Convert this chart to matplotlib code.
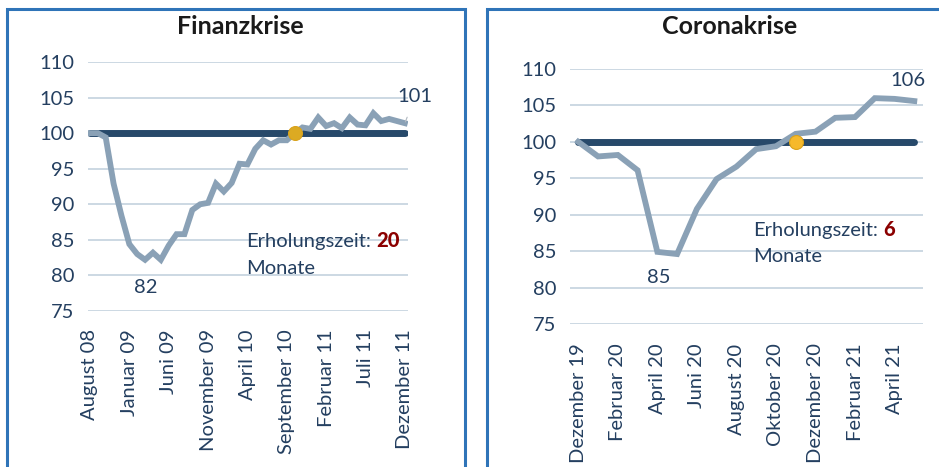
import matplotlib
matplotlib.use("Agg")
import matplotlib.pyplot as plt
from matplotlib.patches import Rectangle

plt.rcParams["font.family"] = ["Lato", "DejaVu Sans"]

# Finanzkrise: monthly index, August 2008 = 100 (41 months)
fin_values = [100.0, 100.0, 99.4, 92.9, 88.4, 84.4, 83.0, 82.2, 83.2, 82.2,
              84.2, 85.8, 85.8, 89.2, 90.0, 90.2, 92.9, 91.8, 93.0, 95.7,
              95.6, 97.8, 99.0, 98.4, 99.0, 99.0, 100.0, 100.8, 100.6, 102.2,
              101.0, 101.4, 100.7, 102.2, 101.2, 101.1, 102.8, 101.7, 102.0, 101.7,
              101.4]
fin_labels = ["August 08", "Januar 09", "Juni 09", "November 09", "April 10",
              "September 10", "Februar 11", "Juli 11", "Dezember 11"]
fin_tick_pos = [0, 5, 10, 15, 20, 25, 30, 35, 40]
fin_recovery_idx = 26
fin_months = 20
fin_min_label = "82"
fin_end_label = "101"

# Coronakrise: monthly index, Dezember 2019 = 100 (18 months)
cor_values = [100.0, 98.0, 98.2, 96.1, 84.9, 84.6, 90.8, 94.9, 96.6, 99.0,
              99.4, 101.1, 101.4, 103.3, 103.4, 106.0, 105.9, 105.6]
cor_labels = ["Dezember 19", "Februar 20", "April 20", "Juni 20", "August 20",
              "Oktober 20", "Dezember 20", "Februar 21", "April 21"]
cor_tick_pos = [0, 2, 4, 6, 8, 10, 12, 14, 16]
cor_recovery_idx = 11
cor_months = 6
cor_min_label = "85"
cor_end_label = "106"

W, H = 939, 467
fig = plt.figure(figsize=(W / 100, H / 100), dpi=100)

TXT = "#243f60"
LINE = "#8aa1b6"
BASE = "#27496a"
GRID = "#bfcedb"
FS = 14.5


def px_axes(x0, y0, x1, y1):
    return fig.add_axes([x0 / W, 1 - y1 / H, (x1 - x0) / W, (y1 - y0) / H])


def draw_panel(ax, values, labels, tick_pos, rec_idx, months, dot_color,
               xlim, min_lbl, min_xy, end_lbl, end_xy, txt_xy, leader, xpad):
    n = len(values)
    x = list(range(n))
    ax.set_ylim(75, 110)
    ax.set_xlim(*xlim)
    ax.set_yticks(range(75, 111, 5))
    for v in range(75, 111, 5):
        ax.axhline(v, color=GRID, lw=1.1, zorder=0)
    ax.plot([0, n - 1], [100, 100], color=BASE, lw=5, solid_capstyle="round", zorder=2)
    ax.plot(x, values, color=LINE, lw=4.2, solid_joinstyle="miter", zorder=3)
    ax.plot([rec_idx], [100], "o", ms=10, color=dot_color, mec="#d9a21c", mew=0.8, zorder=4)
    for s in ax.spines.values():
        s.set_visible(False)
    ax.tick_params(length=0, labelsize=FS, labelcolor=TXT)
    ax.tick_params(axis="y", pad=10)
    ax.tick_params(axis="x", pad=xpad)
    ax.set_xticks(tick_pos)
    ax.set_xticklabels(labels, rotation=90, va="top")
    ax.text(min_xy[0], min_xy[1], min_lbl, ha="center", va="center", fontsize=FS, color=TXT)
    if leader:
        ax.annotate(end_lbl, xy=(n - 1, values[-1]), xytext=end_xy, ha="center", va="center",
                    fontsize=FS, color=TXT,
                    arrowprops=dict(arrowstyle="-", color="#b0b8c0", lw=0.8, shrinkA=7, shrinkB=1))
    else:
        ax.text(end_xy[0], end_xy[1], end_lbl, ha="center", va="center", fontsize=FS, color=TXT)
    t = ax.text(txt_xy[0], txt_xy[1], "Erholungszeit:", ha="left", va="center",
                fontsize=FS, color=TXT)
    ax.annotate(str(months), xy=(1, 0), xycoords=t, xytext=(4, 0), textcoords="offset points",
                ha="left", va="bottom", fontsize=FS, color="#8b0000", fontweight="black")
    ax.text(txt_xy[0], txt_xy[1] - 3.7, "Monate", ha="left", va="center",
            fontsize=FS, color=TXT)


# panel frames
fig.patches.append(Rectangle((7 / W, -0.05), 458 / W, 1.05 - 9 / H, transform=fig.transFigure,
                             fill=False, ec="#2f74b8", lw=2.2))
fig.patches.append(Rectangle((487 / W, -0.05), 470 / W, 1.05 - 9 / H, transform=fig.transFigure,
                             fill=False, ec="#2f74b8", lw=2.2))

ax1 = px_axes(88, 62, 408, 311)
draw_panel(ax1, fin_values, fin_labels, fin_tick_pos, fin_recovery_idx, fin_months, "#dcaa22",
           (-0.25, 40.4), fin_min_label, (7.1, 78.3), fin_end_label, (41.3, 105.1),
           (19.8, 84.7), True, 13)
fig.text(240 / W, 1 - 27 / H, "Finanzkrise", ha="center", va="center",
         fontsize=18, fontweight="bold", color="#1a1a1a")

ax2 = px_axes(570, 69, 923, 324)
draw_panel(ax2, cor_values, cor_labels, cor_tick_pos, cor_recovery_idx, cor_months, "#f6b92b",
           (-0.42, 17.44), cor_min_label, (4.08, 81.4), cor_end_label, (16.7, 108.4),
           (8.85, 87.9), False, 14)
fig.text(730 / W, 1 - 27 / H, "Coronakrise", ha="center", va="center",
         fontsize=18, fontweight="bold", color="#1a1a1a")

fig.savefig("out.png", dpi=100)
